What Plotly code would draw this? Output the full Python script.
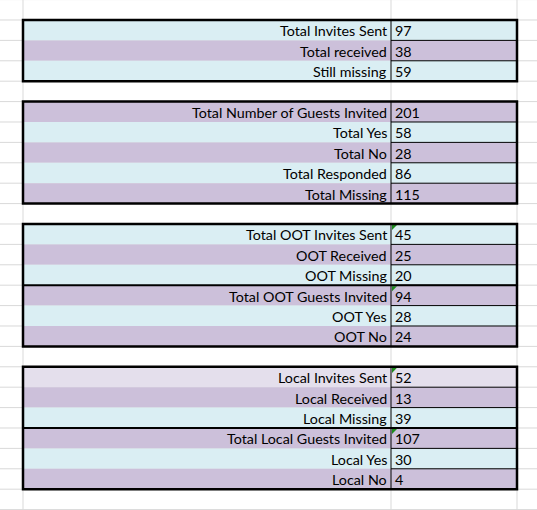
"""
Wedding invite tracker sheet, redrawn with plotly
"""
import plotly.graph_objects as go

sent_labels = ['Total Invites Sent', 'Total received', 'Still missing']
sent_values = [97, 38, 59]

guest_labels = ['Total Number of Guests Invited', 'Total Yes', 'Total No',
                'Total Responded', 'Total Missing']
guest_values = [201, 58, 28, 86, 115]

oot_labels = ['Total OOT Invites Sent', 'OOT Received', 'OOT Missing',
              'Total OOT Guests Invited', 'OOT Yes', 'OOT No']
oot_values = [45, 25, 20, 94, 28, 24]

local_labels = ['Local Invites Sent', 'Local Received', 'Local Missing',
                'Total Local Guests Invited', 'Local Yes', 'Local No']
local_values = [52, 13, 39, 107, 30, 4]

BLUE = '#DAEEF3'
PURPLE = '#CCC0DA'
LILAC = '#E4DFEC'
GRID = '#D9D9D9'
FONT = dict(family='Lato, Carlito, Calibri, sans-serif', size=14.3, color='black')

# labels, values, fills, first row of each sub group, rows with the green flag
blocks = [
    (sent_labels, sent_values, [BLUE, PURPLE, BLUE], [], []),
    (guest_labels, guest_values, [PURPLE, BLUE, PURPLE, BLUE, PURPLE], [], []),
    (oot_labels, oot_values, [BLUE, PURPLE, BLUE, PURPLE, BLUE, PURPLE], [3], [0, 3]),
    (local_labels, local_values, [LILAC, PURPLE, BLUE, PURPLE, BLUE, PURPLE], [3], [0, 3]),
]

# column edges in px, rows are one unit on the y axis
COL_B, COL_C, COL_D, WIDTH = 23, 391, 517, 537
ROW_TOP, ROW_BOTTOM = -0.98, 24.02

fig = go.Figure()
shapes = []
notes = []

# sheet gridlines
for k in range(-1, 25):
    shapes.append(dict(type='line', x0=0, x1=WIDTH, y0=k, y1=k, layer='below',
                       line=dict(color=GRID, width=1)))
for x in [COL_B, COL_C, COL_D]:
    shapes.append(dict(type='line', x0=x, x1=x, y0=ROW_TOP, y1=ROW_BOTTOM, layer='below',
                       line=dict(color=GRID, width=1)))

top = 0
for labels, values, fills, splits, flags in blocks:
    n = len(labels)
    for i in range(n):
        y0 = top + i
        shapes.append(dict(type='rect', x0=COL_B, x1=COL_D, y0=y0, y1=y0 + 1,
                           fillcolor=fills[i], line=dict(width=0)))
        if i > 0:
            shapes.append(dict(type='line', x0=COL_C, x1=COL_D, y0=y0, y1=y0,
                               line=dict(color='black', width=1)))
        notes.append(dict(x=COL_C - 2, y=y0 + 0.53, text=labels[i], xanchor='right',
                          yanchor='middle', showarrow=False, font=FONT))
        notes.append(dict(x=COL_C + 2, y=y0 + 0.53, text=str(values[i]), xanchor='left',
                          yanchor='middle', showarrow=False, font=FONT))
    for i in flags:
        y0 = top + i
        shapes.append(dict(type='path',
                           path=f'M {COL_C + 1},{y0 + 0.05} L {COL_C + 6},{y0 + 0.05} '
                                f'L {COL_C + 1},{y0 + 0.3} Z',
                           fillcolor='#1E8C1E', line=dict(width=0)))
    shapes.append(dict(type='line', x0=COL_C, x1=COL_C, y0=top, y1=top + n,
                       line=dict(color='black', width=1)))
    for s in splits:
        shapes.append(dict(type='line', x0=COL_B, x1=COL_D, y0=top + s, y1=top + s,
                           line=dict(color='black', width=2)))
    shapes.append(dict(type='rect', x0=COL_B, x1=COL_D, y0=top, y1=top + n,
                       line=dict(color='black', width=2.5)))
    top += n + 1

fig.update_layout(width=537, height=510,
                  margin=dict(l=0, r=0, t=0, b=0),
                  plot_bgcolor='white', paper_bgcolor='white',
                  shapes=shapes, annotations=notes,
                  xaxis=dict(range=[0, WIDTH], visible=False, fixedrange=True),
                  yaxis=dict(range=[ROW_BOTTOM, ROW_TOP], visible=False, fixedrange=True))

# drop the browser's default page margin so the sheet starts at the corner
fig.write_html('out.html', config={'displayModeBar': False},
               post_script="document.body.style.margin='0';")
